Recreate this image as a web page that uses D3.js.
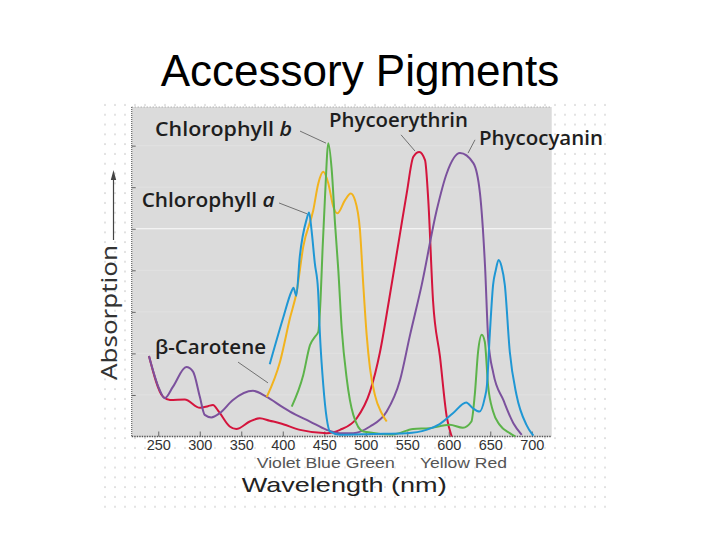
<!DOCTYPE html>
<html>
<head>
<meta charset="utf-8">
<script src="https://cdn.jsdelivr.net/npm/d3@7"></script>
<style>
  html, body { margin: 0; padding: 0; background: #fff; }
  svg { display: block; }
</style>
</head>
<body>
<div id="chart"></div>
<script>
// absorption spectra: [wavelength nm, relative absorption]
const chlorophyllA = [
  [384.3, 1.74], [400.4, 2.85], [410.5, 3.49], [412.9, 3.58], [416.3, 3.39], [420.5, 4.33],
  [428.6, 5.22], [431.7, 5.39], [434.6, 4.98], [438.6, 4.17], [442.5, 3.53], [444.8, 2.45],
  [448.8, 1.24], [452.9, 0.44], [456.8, 0.12], [469, 0.04], [508, 0.06], [549, 0.08],
  [573, 0.16], [589, 0.30], [605, 0.56], [621, 0.82], [629, 0.68], [637, 0.60], [643, 0.9],
  [646, 1.24], [649.4, 2.45], [653.4, 3.65], [656.6, 4.0], [660, 4.25], [663.5, 4.1],
  [667.5, 3.65], [673.5, 2.04], [681.6, 1.0], [693.6, 0.28], [699.6, 0.08], [702, 0.02]
];
const chlorophyllB = [
  [410.8, 0.72], [424.7, 1.48], [432.8, 2.20], [438.8, 2.40], [442.8, 2.52], [445.5, 3.29],
  [447.9, 4.49], [450.9, 5.77], [454.9, 7.06], [459, 6.41], [462.9, 5.14], [466.9, 4.01],
  [471, 2.60], [477, 1.40], [485, 0.52], [497, 0.12], [532.5, 0.05], [557, 0.18], [577, 0.20],
  [601, 0.28], [617, 0.21], [627.3, 0.36], [631.3, 1.0], [635.3, 2.04], [639.8, 2.45],
  [643.4, 2.28], [647.3, 1.24], [653.4, 0.60], [661.4, 0.28], [673.5, 0.08], [680, 0]
];
const betaCarotene = [
  [380.7, 0.95], [396.7, 1.80], [408.7, 2.85], [416.8, 3.49], [424.7, 4.57], [436.8, 5.45],
  [442.8, 6.09], [448.8, 6.37], [454.9, 6.09], [460.9, 5.53], [465.7, 5.37], [475, 5.69],
  [481.9, 5.85], [487, 5.69], [493, 4.97], [497, 3.65], [501.1, 2.44], [505.1, 1.64],
  [511.1, 0.99], [519.2, 0.56], [525.2, 0.36]
];
const phycoerythrin = [
  [238.8, 1.94], [255.7, 0.96], [264.1, 0.88], [281.9, 0.89], [300.3, 0.69], [309.9, 0.73],
  [315.9, 0.76], [323.2, 0.59], [336.1, 0.24], [344, 0.18], [360.2, 0.36], [372.2, 0.44],
  [384.3, 0.38], [396.7, 0.32], [420.8, 0.16], [452.9, 0.08], [469, 0.16], [489.1, 0.44],
  [505.1, 1.08], [517.2, 2.04], [528, 3.28], [541.3, 4.89], [549.3, 5.85], [557.3, 6.73],
  [564.5, 6.85], [571.4, 6.65], [575.3, 5.69], [581, 3.28], [589.4, 1.92], [597.5, 0.48],
  [603.5, 0]
];
const phycocyanin = [
  [238.8, 1.94], [251.7, 1.12], [257.8, 0.92], [267.8, 1.20], [283.8, 1.67], [291.9, 1.56],
  [300, 0.96], [306, 0.52], [313.9, 0.46], [324, 0.56], [340, 0.88], [364.1, 1.10],
  [380.2, 0.96], [400.3, 0.70], [408.7, 0.60], [432.8, 0.36], [452.9, 0.16], [469, 0.08],
  [485, 0.08], [505.1, 0.24], [525.2, 0.60], [541.3, 1.36], [553.3, 2.44], [567.4, 3.65],
  [585.5, 5.45], [597.5, 6.33], [613.5, 6.82], [629.6, 6.58], [637.6, 5.85], [643.7, 4.09],
  [647.6, 2.32], [653.7, 1.52], [665.7, 0.88], [677.8, 0.32], [687.9, 0.04]
];

const pigmentNames = ['Phycoerythrin', 'Phycocyanin', 'β-Carotene', 'Chlorophyll b', 'Chlorophyll a'];
const pigmentSeries = [phycoerythrin, phycocyanin, betaCarotene, chlorophyllB, chlorophyllA];
const pigmentColors = ['#d4143c', '#7b519d', '#f2b31d', '#5cb34a', '#1f97d4'];

const xTickValues = [250, 300, 350, 400, 450, 500, 550, 600, 650, 700];
const yTickValues = [1, 2, 3, 4, 5, 6, 7];
const spectrumLabels = ['Violet Blue Green', 'Yellow Red'];

function renderSpectra(containerId) {
    const container = d3.select(`#${containerId}`);
    container.selectAll('*').remove();

    const W = 720, H = 540;
    const panel = { left: 131.7, right: 551.7, top: 107, bottom: 436.5 };

    const svg = container.append('svg')
        .attr('width', W)
        .attr('height', H);

    // dotted sheet behind the figure
    const defs = svg.append('defs');
    defs.append('pattern')
        .attr('id', 'dots')
        .attr('patternUnits', 'userSpaceOnUse')
        .attr('x', 100).attr('y', 100)
        .attr('width', 10).attr('height', 9.8)
        .append('circle')
        .attr('cx', 5).attr('cy', 5).attr('r', 0.8)
        .attr('fill', '#c2c2c2');
    svg.append('rect')
        .attr('x', 100).attr('y', 100)
        .attr('width', 510).attr('height', 408)
        .attr('fill', 'url(#dots)');

    svg.append('text')
        .attr('x', W / 2)
        .attr('y', 86)
        .attr('text-anchor', 'middle')
        .style('font-family', '"Liberation Sans", Arial, sans-serif')
        .style('font-size', '44px')
        .attr('fill', '#000')
        .text('Accessory Pigments');

    const x = d3.scaleLinear()
        .domain([218, 724])
        .range([panel.left, panel.right]);

    const y = d3.scaleLinear()
        .domain([0, 7.93])
        .range([panel.bottom, panel.top]);

    svg.append('rect')
        .attr('x', panel.left)
        .attr('y', panel.top)
        .attr('width', panel.right - panel.left)
        .attr('height', panel.bottom - panel.top)
        .attr('fill', '#dbdbdb');

    svg.append('g')
        .selectAll('line')
        .data(yTickValues)
        .enter()
        .append('line')
        .attr('x1', panel.left).attr('x2', panel.right)
        .attr('y1', d => y(d)).attr('y2', d => y(d))
        .attr('stroke', '#fff')
        .attr('stroke-width', 1.2)
        .attr('opacity', d => d === 5 ? 0.9 : 0.15);

    // top and left frame (dotted)
    svg.append('line')
        .attr('x1', panel.left).attr('x2', panel.right)
        .attr('y1', panel.top).attr('y2', panel.top)
        .attr('stroke', '#999').attr('stroke-dasharray', '1,2');
    svg.append('line')
        .attr('x1', panel.left).attr('x2', panel.left)
        .attr('y1', panel.top).attr('y2', panel.bottom)
        .attr('stroke', '#666').attr('stroke-width', 1.2).attr('stroke-dasharray', '1,1');

    const xAxis = svg.append('g')
        .attr('transform', `translate(0,${panel.bottom})`)
        .call(d3.axisBottom(x).tickValues(xTickValues).tickSize(-5).tickPadding(3));
    xAxis.select('.domain').remove();
    xAxis.selectAll('.tick line').attr('stroke', '#666');
    xAxis.selectAll('.tick text')
        .style('font-family', '"Liberation Sans", Arial, sans-serif')
        .style('font-size', '14.5px')
        .attr('fill', '#333');
    svg.append('line')
        .attr('x1', panel.left).attr('x2', panel.right)
        .attr('y1', panel.bottom).attr('y2', panel.bottom)
        .attr('stroke', '#555').attr('stroke-width', 1.6).attr('stroke-dasharray', '1.5,1');

    const yAxis = svg.append('g')
        .attr('transform', `translate(${panel.left},0)`)
        .call(d3.axisLeft(y).tickValues(yTickValues).tickSize(-4).tickFormat(''));
    yAxis.select('.domain').remove();
    yAxis.selectAll('.tick line').attr('stroke', '#666');

    const line = d3.line()
        .x(d => x(d[0]))
        .y(d => y(d[1]))
        .curve(d3.curveMonotoneX);

    svg.append('g')
        .selectAll('path')
        .data(pigmentSeries)
        .enter()
        .append('path')
        .attr('d', line)
        .attr('fill', 'none')
        .attr('stroke', (d, i) => pigmentColors[i])
        .attr('stroke-width', 2)
        .attr('stroke-linejoin', 'round');

    // label anchors and leader lines, in data units
    const notes = {
        'Chlorophyll b': { at: [246.1, 7.23], len: 137, from: [420.8, 7.35], to: [452.1, 7.06] },
        'Chlorophyll a': { at: [230.0, 5.52], len: 133, from: [395.5, 5.62], to: [429.2, 5.36] },
        'Phycoerythrin': { at: [455.7, 7.45], len: 139, from: [542.5, 7.26], to: [559.3, 6.87] },
        'Phycocyanin':   { at: [636.4, 7.02], len: 124, from: [631.6, 7.14], to: [623.2, 6.82] },
        'β-Carotene':    { at: [246.1, 1.99], len: 111, from: [346.1, 1.79], to: [382.2, 1.29] }
    };

    const labels = svg.append('g');
    pigmentNames.forEach(name => {
        const n = notes[name];
        labels.append('line')
            .attr('x1', x(n.from[0])).attr('y1', y(n.from[1]))
            .attr('x2', x(n.to[0])).attr('y2', y(n.to[1]))
            .attr('stroke', '#555')
            .attr('stroke-width', 0.8);
        const t = labels.append('text')
            .attr('x', x(n.at[0]))
            .attr('y', y(n.at[1]))
            .attr('textLength', n.len)
            .attr('lengthAdjust', 'spacingAndGlyphs')
            .style('font-family', '"Open Sans", "Noto Sans", sans-serif')
            .style('font-size', '19.5px')
            .style('font-weight', 600)
            .attr('fill', '#1e1e1e');
        const m = name.match(/^(.*\s)([ab])$/);
        if (m) {
            t.append('tspan').text(m[1]);
            t.append('tspan').style('font-style', 'italic').text(m[2]);
        } else {
            t.text(name);
        }
    });

    // colour band names under the tick labels
    const bandStart = [368.6, 565.3];
    const bandLen = [138, 87];
    svg.append('g')
        .selectAll('text')
        .data(spectrumLabels)
        .enter()
        .append('text')
        .attr('x', (d, i) => x(bandStart[i]))
        .attr('y', 467.5)
        .attr('textLength', (d, i) => bandLen[i])
        .attr('lengthAdjust', 'spacingAndGlyphs')
        .style('font-family', '"Liberation Sans", Arial, sans-serif')
        .style('font-size', '14px')
        .attr('fill', '#555')
        .text(d => d);

    svg.append('text')
        .attr('x', 241.7)
        .attr('y', 492)
        .attr('textLength', 205)
        .attr('lengthAdjust', 'spacingAndGlyphs')
        .style('font-family', '"Liberation Sans", Arial, sans-serif')
        .style('font-size', '21px')
        .attr('fill', '#222')
        .text('Wavelength (nm)');

    svg.append('text')
        .attr('transform', 'translate(116.7,380) rotate(-90)')
        .attr('textLength', 135)
        .attr('lengthAdjust', 'spacingAndGlyphs')
        .style('font-family', '"Noto Sans", "Open Sans", sans-serif')
        .style('font-size', '21px')
        .attr('fill', '#333')
        .text('Absorption');

    svg.append('line')
        .attr('x1', 113.5).attr('x2', 113.5)
        .attr('y1', 240).attr('y2', 178)
        .attr('stroke', '#444').attr('stroke-width', 1.2);
    svg.append('path')
        .attr('d', 'M113.5,170 L110.8,180 L116.2,180 Z')
        .attr('fill', '#444');
}

renderSpectra('chart');
</script>
</body>
</html>
